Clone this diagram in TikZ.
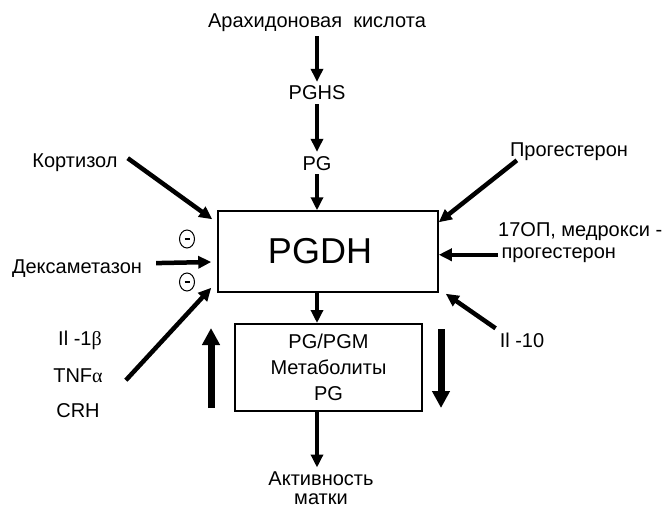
\documentclass[tikz,border=0pt]{standalone}
\usepackage{fontspec}
\setmainfont{Liberation Sans}
\newfontfamily\grk{Liberation Serif}
\usetikzlibrary{arrows.meta,shapes.geometric}

\begin{document}
\begin{tikzpicture}[x=1pt,y=-1pt,
    txt/.style={font=\fontsize{20}{22}\selectfont,inner sep=4pt},
    arr/.style={line width=4.5pt,-{Triangle[length=13pt,width=12pt]}},
    bigarr/.style={line width=7pt,-{Triangle[length=17pt,width=17pt]}},
    minus/.style={ellipse,draw,line width=1pt,minimum width=15pt,minimum height=18pt,inner sep=0pt}]
    \path[fill=white,use as bounding box] (0,0) rectangle (666,508);
    % synthesis chain
    \node (arach) at (317,28) [txt,anchor=base] {Арахидоновая\ \ кислота};
    \node (pghs) at (317,100) [txt,anchor=base] {PGHS};
    \node (pg) at (317,170) [txt,anchor=base] {PG};
    \node (pgdh) at (328,251.5) [draw,line width=1.5pt,minimum width=220pt,minimum height=81pt,
        font=\fontsize{36}{40}\selectfont] {PGDH\hspace*{16pt}};
    \node (pgm) at (328.5,367.5) [draw,line width=2pt,minimum width=187pt,minimum height=87pt,
        align=center,font=\fontsize{20}{26}\selectfont] {PG/PGM\\Метаболиты\\PG};
    \node (akt) at (321,467.5) [txt,anchor=north,align=center,font=\fontsize{20}{19}\selectfont] {Активность\\матки};
    \draw[arr] (arach) -- (pghs);
    \draw[arr] (pghs) -- (pg);
    \draw[arr] (pg) -- (pg |- pgdh.north);
    \draw[arr] (pgdh.south -| pg) -- (pgm.north -| pg);
    \draw[arr] (pgm.south -| pg) -- (akt.north -| pg);
    % left side
    \node (kort) at (75,167) [txt,anchor=base] {Кортизол};
    \node (dexa) at (77,273) [txt,anchor=base] {Дексаметазон};
    \node (il1) at (80,345) [txt,anchor=base] {Il -1{\grk β}};
    \node (tnf) at (78,382) [txt,anchor=base] {TNF{\grk α}};
    \node (crh) at (78,417) [txt,anchor=base] {CRH};
    \node (neg1) at (187,239) [minus] {\rule{5pt}{2.2pt}};
    \node (neg2) at (187,282) [minus] {\rule{5pt}{2.2pt}};
    \draw[arr] ([shift={(6,-4)}]kort.east) -- ([shift={(-5,9)}]pgdh.north west);
    \draw[arr] ([shift={(10,-5)}]dexa.east) -- ([shift={(-6,10.5)}]pgdh.west);
    \draw[arr] ([shift={(19,5)}]tnf.east) -- ([shift={(-6,-5)}]pgdh.south west);
    % right side
    \node (prog) at (569,156) [txt,anchor=base] {Прогестерон};
    \node (opm) at (494,218.5) [txt,anchor=north west,align=left] {17ОП, медрокси -\\\,прогестерон};
    \node (il10) at (522,347) [txt,anchor=base] {Il -10};
    \coordinate (opmin) at ([shift={(4,12)}]opm.west);
    \draw[arr] ([shift={(11,-4)}]prog.south west) -- ([shift={(0,12)}]pgdh.north east);
    \draw[arr] (opmin) -- (opmin -| pgdh.east);
    \draw[arr] (il10.north west) -- ([shift={(7,1)}]pgdh.south east);
    % feedback arrows
    \draw[bigarr] ([shift={(-23,-4)}]pgm.south west) -- ([shift={(-23,5)}]pgm.north west);
    \draw[bigarr] ([shift={(18,6)}]pgm.north east) -- ([shift={(18,-4)}]pgm.south east);
\end{tikzpicture}
\end{document}
